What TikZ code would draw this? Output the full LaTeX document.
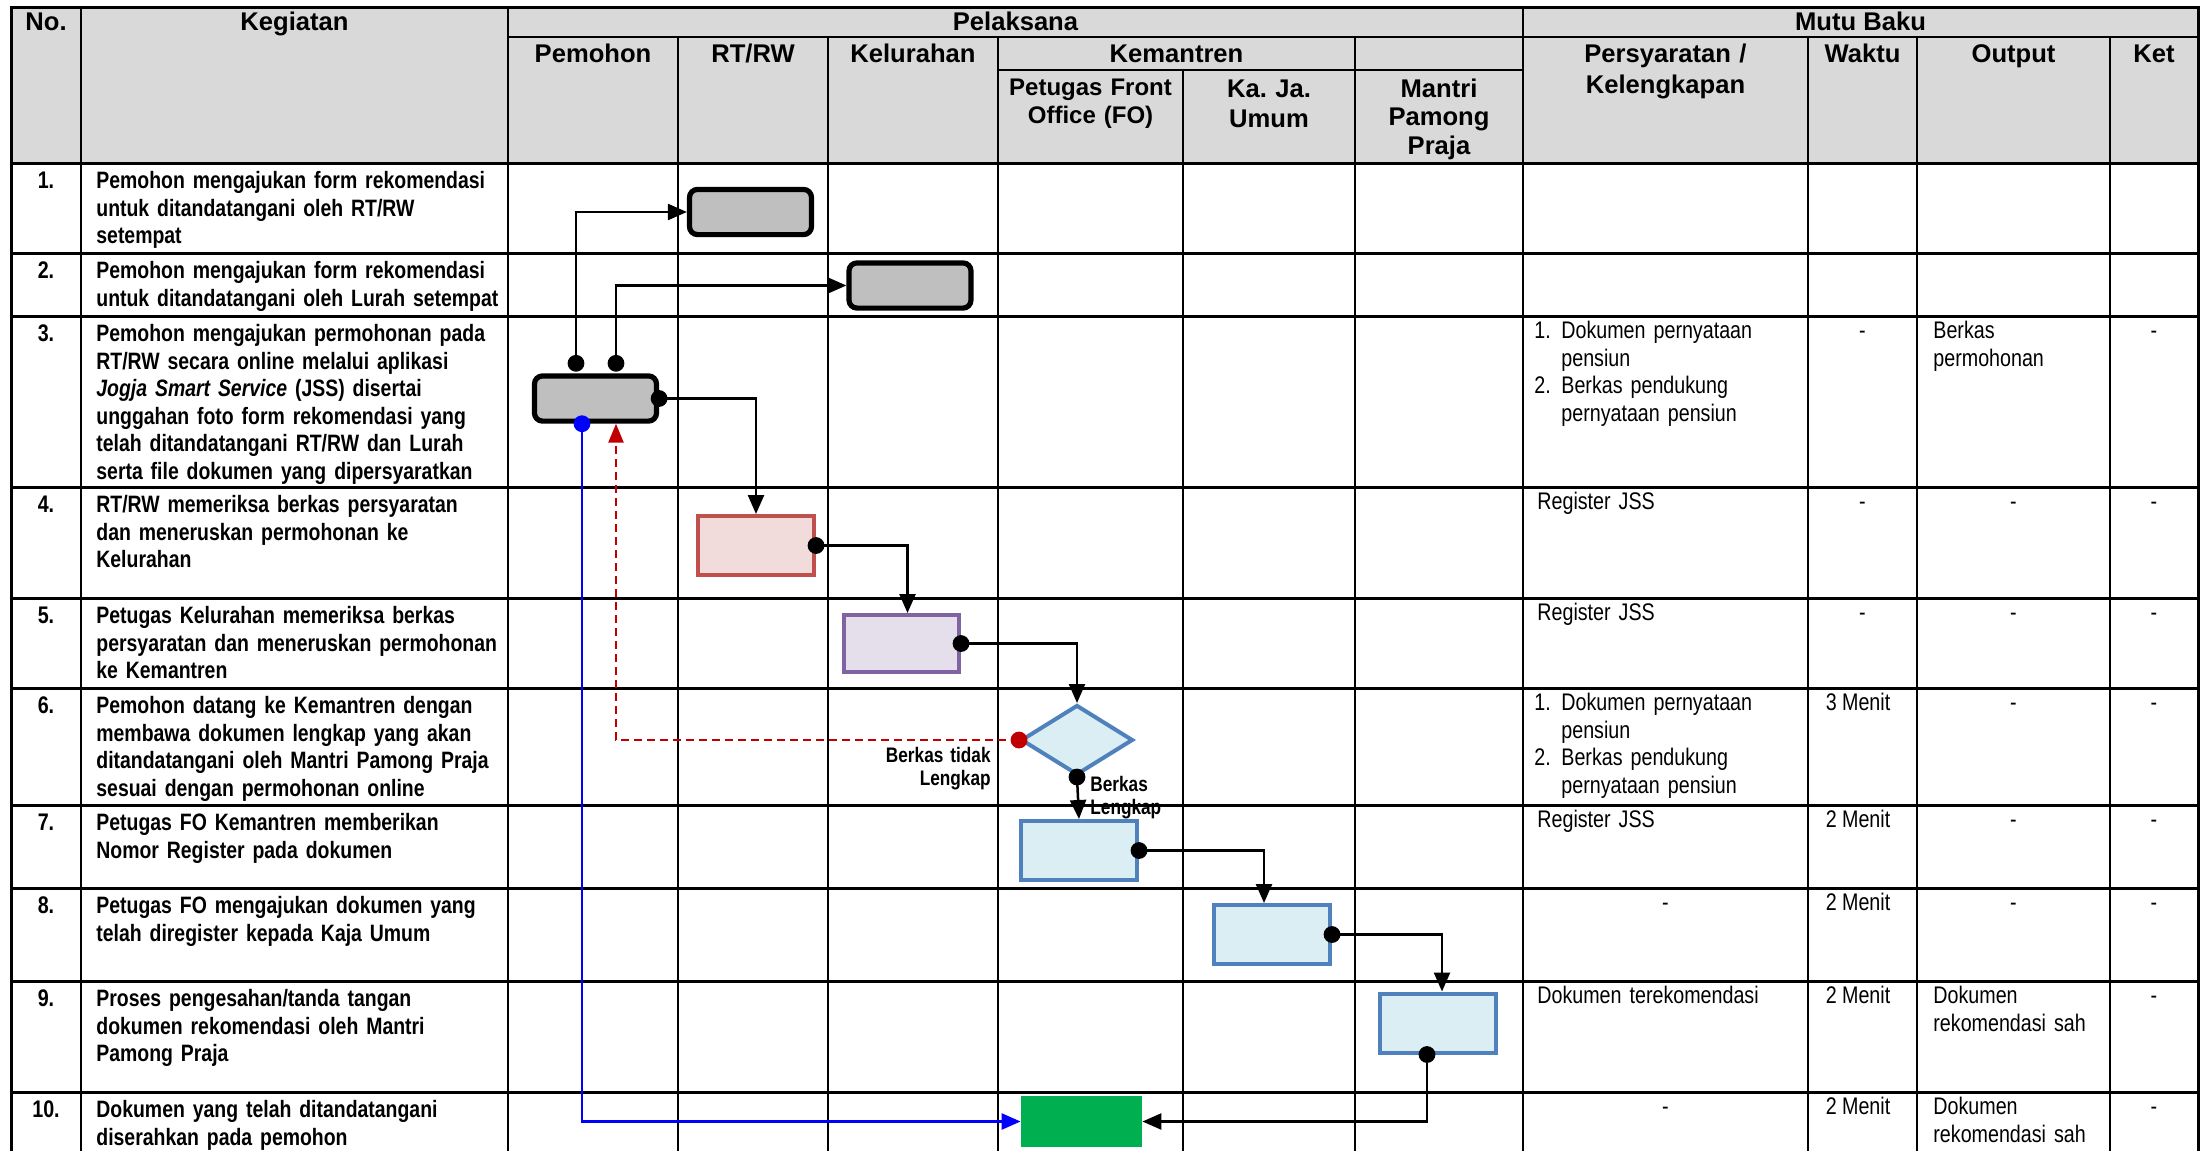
\documentclass[tikz,border=0pt]{standalone}
\usepackage{fontspec}
\setmainfont{Liberation Sans}
\newfontfamily\narrowfont{Liberation Sans}[FakeStretch=0.82]
\usetikzlibrary{arrows.meta,shapes.geometric,calc}

\definecolor{hdrgray}{HTML}{D9D9D9}
\definecolor{boxgray}{HTML}{BFBFBF}
\definecolor{redfill}{HTML}{F2DCDB}
\definecolor{redline}{HTML}{C0504D}
\definecolor{purfill}{HTML}{E5DFEC}
\definecolor{purline}{HTML}{8064A2}
\definecolor{bluefill}{HTML}{DBEEF4}
\definecolor{blueline}{HTML}{4F81BD}
\definecolor{okgreen}{HTML}{00B050}
\definecolor{backred}{HTML}{C00000}
\definecolor{retblue}{HTML}{0000FF}

\frenchspacing
\begin{document}
\begin{tikzpicture}[x=0.5pt,y=-0.5pt,
  hline/.style={line width=1.5pt,line cap=rect},
  vline/.style={line width=1pt},
  oline/.style={line width=1.5pt,line cap=rect},
  hdr/.style={font=\bfseries\fontsize{12.8}{15.5}\selectfont,inner sep=0pt,anchor=base,align=center},
  body/.style={font=\narrowfont\bfseries\fontsize{11.85}{13.75}\selectfont,inner sep=0pt,anchor=base west,align=left,text width=205pt},
  num/.style={font=\narrowfont\bfseries\fontsize{12}{13.75}\selectfont,inner sep=0pt,anchor=base},
  info/.style={font=\narrowfont\fontsize{12}{13.8}\selectfont,inner sep=0pt,anchor=base west,align=left,text width=130pt},
  infoc/.style={font=\narrowfont\fontsize{12}{13.8}\selectfont,inner sep=0pt,anchor=base},
  lbl/.style={font=\narrowfont\bfseries\fontsize{10.5}{11.75}\selectfont,inner sep=0pt,text width=60pt},
  graybox/.style={draw=black,fill=boxgray,line width=2.6pt,rounded corners=4pt,minimum width=61pt,minimum height=22.6pt,inner sep=0pt},
  redbox/.style={draw=redline,fill=redfill,line width=2.2pt,minimum width=57.8pt,minimum height=29.3pt,inner sep=0pt},
  purbox/.style={draw=purline,fill=purfill,line width=1.8pt,minimum width=57.7pt,minimum height=28.7pt,inner sep=0pt},
  bluebox/.style={draw=blueline,fill=bluefill,line width=2pt,minimum width=58pt,minimum height=29.5pt,inner sep=0pt},
  greenbox/.style={fill=okgreen,minimum width=60.5pt,minimum height=25.5pt,inner sep=0pt},
  decision/.style={diamond,draw=blueline,fill=bluefill,line width=2pt,aspect=1.57,minimum width=56pt,minimum height=35pt,inner sep=0pt},
  flow/.style={draw=black,line width=1.25pt,-{Triangle[length=9.5pt,width=8pt]}},
  blueflow/.style={draw=retblue,line width=1.25pt,-{Triangle[length=9.5pt,width=8pt]}},
  redflow/.style={draw=backred,line width=1.25pt,dash pattern=on 4pt off 2.5pt,-{Triangle[length=9.5pt,width=7.5pt]}},
  dot/.style={fill=black}
]
\useasboundingbox (0,0) rectangle (2201,1151);

% header background
\fill[hdrgray] (11,7) rectangle (2198,163);

% horizontal rules
\draw[oline] (11,7) -- (2198,7);
\draw[vline] (508,37) -- (2198,37);
\draw[vline] (998,70) -- (1523,70);
\draw[hline] (11,163) -- (2198,163);
\foreach \y in {253,316,487,598,688,805,888,981,1092}
  \draw[hline] (11,\y) -- (2198,\y);

% vertical rules
\foreach \x in {11,2198} \draw[oline] (\x,7) -- (\x,1151);
\foreach \x in {81,508,1523} \draw[vline] (\x,7) -- (\x,1151);
\foreach \x in {678,828,998,1355,1808,1917,2110} \draw[vline] (\x,37) -- (\x,1151);
\draw[vline] (1183,70) -- (1183,1151);

% header titles
\node[hdr] (hNo) at (46,30) {No.};
\node[hdr] (hKeg) at (294.5,30) {Kegiatan};
\node[hdr] (hPel) at (1015.5,30) {Pelaksana};
\node[hdr] (hMutu) at (1860.5,30) {Mutu Baku};
\node[hdr] (hPem) at (593,62) {Pemohon};
\node[hdr] (hRT) at (753,62) {RT/RW};
\node[hdr] (hKel) at (913,62) {Kelurahan};
\node[hdr] (hKem) at (1176.5,62) {Kemantren};
\node[hdr,text width=130pt] (hSyarat) at (1665.5,62) {Persyaratan /\\Kelengkapan};
\node[hdr] (hWaktu) at (1862.5,62) {Waktu};
\node[hdr] (hOut) at (2013.5,62) {Output};
\node[hdr] (hKet) at (2154,62) {Ket};
\node[hdr,font=\bfseries\fontsize{12}{14}\selectfont,text width=90pt] (hFO) at (1090.5,95) {Petugas Front\\Office (FO)};
\node[hdr,font=\bfseries\fontsize{12.8}{15}\selectfont,text width=84pt] (hKaja) at (1269,97) {Ka. Ja.\\Umum};
\node[hdr,font=\bfseries\fontsize{12.8}{14.25}\selectfont,text width=82pt] (hMantri) at (1439,97) {Mantri\\Pamong\\Praja};

% row numbers
\node[num] (n1) at (46,188.5) {1.};
\node[num] (n2) at (46,278.5) {2.};
\node[num] (n3) at (46,341.5) {3.};
\node[num] (n4) at (46,512.5) {4.};
\node[num] (n5) at (46,623.5) {5.};
\node[num] (n6) at (46,713.5) {6.};
\node[num] (n7) at (46,830.5) {7.};
\node[num] (n8) at (46,913.5) {8.};
\node[num] (n9) at (46,1006.5) {9.};
\node[num] (n10) at (46,1117.5) {10.};

% activities
\node[body] (k1) at (96,188.5) {Pemohon mengajukan form rekomendasi\\untuk ditandatangani oleh RT/RW\\setempat};
\node[body] (k2) at (96,278.5) {Pemohon mengajukan form rekomendasi\\untuk ditandatangani oleh Lurah setempat};
\node[body] (k3) at (96,341.5) {Pemohon mengajukan permohonan pada\\RT/RW secara online melalui aplikasi\\\textit{Jogja Smart Service} (JSS) disertai\\unggahan foto form rekomendasi yang\\telah ditandatangani RT/RW dan Lurah\\serta file dokumen yang dipersyaratkan};
\node[body] (k4) at (96,512.5) {RT/RW memeriksa berkas persyaratan\\dan meneruskan permohonan ke\\Kelurahan};
\node[body] (k5) at (96,623.5) {Petugas Kelurahan memeriksa berkas\\persyaratan dan meneruskan permohonan\\ke Kemantren};
\node[body] (k6) at (96,713.5) {Pemohon datang ke Kemantren dengan\\membawa dokumen lengkap yang akan\\ditandatangani oleh Mantri Pamong Praja\\sesuai dengan permohonan online};
\node[body] (k7) at (96,830.5) {Petugas FO Kemantren memberikan\\Nomor Register pada dokumen};
\node[body] (k8) at (96,913.5) {Petugas FO mengajukan dokumen yang\\telah diregister kepada Kaja Umum};
\node[body] (k9) at (96,1006.5) {Proses pengesahan/tanda tangan\\dokumen rekomendasi oleh Mantri\\Pamong Praja};
\node[body] (k10) at (96,1117.5) {Dokumen yang telah ditandatangani\\diserahkan pada pemohon};

% requirements
\node[info,text width=20pt] (s3a) at (1534,338.5) {1.};
\node[info] (s3) at (1561,338.5) {Dokumen pernyataan\\pensiun\\Berkas pendukung\\pernyataan pensiun};
\node[info,text width=20pt] (s3b) at (1534,393.7) {2.};
\node[info] (s4) at (1537,509.5) {Register JSS};
\node[info] (s5) at (1537,620.5) {Register JSS};
\node[info,text width=20pt] (s6a) at (1534,710.5) {1.};
\node[info] (s6) at (1561,710.5) {Dokumen pernyataan\\pensiun\\Berkas pendukung\\pernyataan pensiun};
\node[info,text width=20pt] (s6b) at (1534,765.7) {2.};
\node[info] (s7) at (1537,827.5) {Register JSS};
\node[infoc] (s8) at (1665.5,910.5) {-};
\node[info] (s9) at (1537,1003.5) {Dokumen terekomendasi};
\node[infoc] (s10) at (1665.5,1114.5) {-};

% time
\node[infoc] (w3) at (1862.5,338.5) {-};
\node[infoc] (w4) at (1862.5,509.5) {-};
\node[infoc] (w5) at (1862.5,620.5) {-};
\node[infoc] (w6) at (1858,710.5) {3 Menit};
\node[infoc] (w7) at (1858,827.5) {2 Menit};
\node[infoc] (w8) at (1858,910.5) {2 Menit};
\node[infoc] (w9) at (1858,1003.5) {2 Menit};
\node[infoc] (w10) at (1858,1114.5) {2 Menit};

% output
\node[info] (o3) at (1933,338.5) {Berkas\\permohonan};
\foreach \y/\r in {509.5/4,620.5/5,710.5/6,827.5/7,910.5/8}
  \node[infoc] (o\r) at (2013.5,\y) {-};
\node[info] (o9) at (1933,1003.5) {Dokumen\\rekomendasi sah};
\node[info] (o10) at (1933,1114.5) {Dokumen\\rekomendasi sah};

% remarks
\foreach \y/\r in {338.5/3,509.5/4,620.5/5,710.5/6,827.5/7,910.5/8,1003.5/9,1114.5/10}
  \node[infoc] (c\r) at (2154,\y) {-};

% flow shapes
\node[graybox] (b1) at (750.5,212) {};
\node[graybox] (b2) at (910,285.5) {};
\node[graybox] (b3) at (595.5,398.5) {};
\node[redbox] (b4) at (756,545.5) {};
\node[purbox] (b5) at (901.5,643.5) {};
\node[decision] (d6) at (1077,740) {};
\node[bluebox] (b7) at (1079,850.5) {};
\node[bluebox] (b8) at (1272,934.5) {};
\node[bluebox] (b9) at (1437.5,1023) {};
\node[greenbox] (b10) at (1081.5,1121.5) {};

% connector end points
\coordinate (p1) at ($(b3.north)+(-19.5,-10)$);
\coordinate (p2) at ($(b3.north)+(20.5,-10)$);
\coordinate (pb) at ($(b3.south)+(-13.5,0)$);
\coordinate (pr) at ($(b3.south)+(20.5,0)$);
\coordinate (p9) at ($(b9.south)+(-10.5,0)$);

% connectors
\draw[flow] (p1) |- (b1.west);
\draw[flow] (p2) |- (b2.west);
\draw[flow] (b3.east) -| (b4.north);
\draw[flow] (b4.east) -| ($(b5.north)+(6,0)$);
\draw[flow] (b5.east) -| (d6.north);
\draw[flow] (d6.south) -- (b7.north);
\draw[flow] (b7.east) -| ($(b8.north)+(-8,0)$);
\draw[flow] (b8.east) -| ($(b9.north)+(4.5,0)$);
\draw[flow] (p9) |- (b10.east);
\draw[blueflow] (pb) |- (b10.west);
\draw[redflow] (d6.west) -| (pr);

% start dots
\foreach \p in {p1,p2,b3.east,b4.east,b5.east,d6.south,b7.east,b8.east,p9}
  \fill[dot] (\p) circle[radius=4.2pt];
\fill[retblue] (pb) circle[radius=4.2pt];
\fill[backred] (d6.west) circle[radius=4.2pt];

% decision labels
\node[lbl,anchor=base east,align=right] (ltidak) at (991,762) {Berkas tidak\\Lengkap};
\node[lbl,anchor=base west,align=left] (llengkap) at (1090,791) {Berkas\\Lengkap};
\end{tikzpicture}
\end{document}
